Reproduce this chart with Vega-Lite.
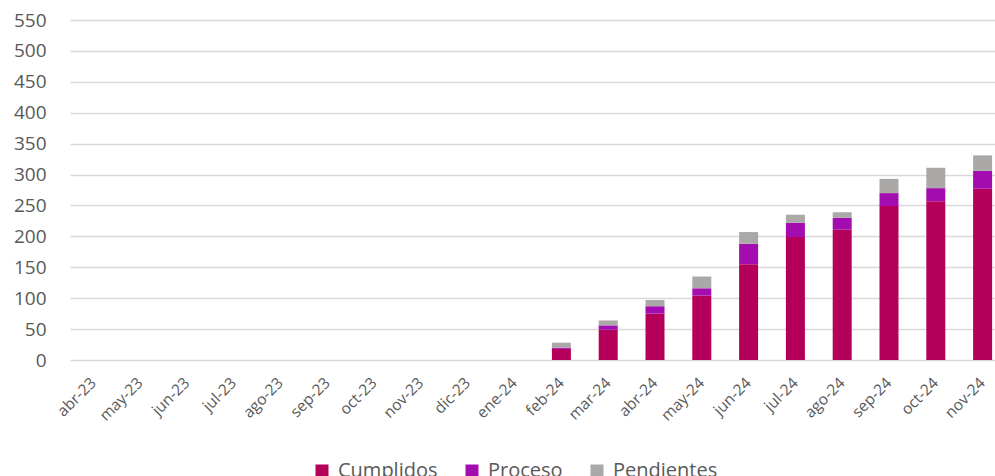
{
  "$schema": "https://vega.github.io/schema/vega-lite/v6.json",
  "autosize": "none",
  "padding": {"left": 70, "top": 20, "right": 0, "bottom": 116},
  "width": 936,
  "height": 340,
  "background": "white",
  "data": {
    "values": [
      {"mes": "abr-23", "Cumplidos": 0, "Proceso": 0, "Pendientes": 0},
      {"mes": "may-23", "Cumplidos": 0, "Proceso": 0, "Pendientes": 0},
      {"mes": "jun-23", "Cumplidos": 0, "Proceso": 0, "Pendientes": 0},
      {"mes": "jul-23", "Cumplidos": 0, "Proceso": 0, "Pendientes": 0},
      {"mes": "ago-23", "Cumplidos": 0, "Proceso": 0, "Pendientes": 0},
      {"mes": "sep-23", "Cumplidos": 0, "Proceso": 0, "Pendientes": 0},
      {"mes": "oct-23", "Cumplidos": 0, "Proceso": 0, "Pendientes": 0},
      {"mes": "nov-23", "Cumplidos": 0, "Proceso": 0, "Pendientes": 0},
      {"mes": "dic-23", "Cumplidos": 0, "Proceso": 0, "Pendientes": 0},
      {"mes": "ene-24", "Cumplidos": 0, "Proceso": 0, "Pendientes": 0},
      {"mes": "feb-24", "Cumplidos": 18, "Proceso": 2, "Pendientes": 8},
      {"mes": "mar-24", "Cumplidos": 49, "Proceso": 7, "Pendientes": 8},
      {"mes": "abr-24", "Cumplidos": 75, "Proceso": 12, "Pendientes": 10},
      {"mes": "may-24", "Cumplidos": 104, "Proceso": 12, "Pendientes": 19},
      {"mes": "jun-24", "Cumplidos": 155, "Proceso": 33, "Pendientes": 19},
      {"mes": "jul-24", "Cumplidos": 199, "Proceso": 23, "Pendientes": 13},
      {"mes": "ago-24", "Cumplidos": 211, "Proceso": 19, "Pendientes": 9},
      {"mes": "sep-24", "Cumplidos": 249, "Proceso": 21, "Pendientes": 23},
      {"mes": "oct-24", "Cumplidos": 257, "Proceso": 21, "Pendientes": 33},
      {"mes": "nov-24", "Cumplidos": 277, "Proceso": 29, "Pendientes": 25}
    ]
  },
  "transform": [
    {"fold": ["Cumplidos", "Proceso", "Pendientes"], "as": ["estado", "valor"]},
    {"calculate": "indexof(['Cumplidos','Proceso','Pendientes'], datum.estado)", "as": "orden"}
  ],
  "mark": {"type": "bar"},
  "encoding": {
    "x": {
      "field": "mes",
      "type": "ordinal",
      "sort": null,
      "scale": {"paddingInner": 0.594, "paddingOuter": 0.297},
      "axis": {
        "title": null,
        "domain": false,
        "ticks": false,
        "labelAngle": -45,
        "labelAlign": "right",
        "labelBaseline": "middle",
        "labelPadding": 20,
        "labelFont": "Open Sans",
        "labelFontSize": 15.5,
        "labelColor": "#595959"
      }
    },
    "y": {
      "field": "valor",
      "type": "quantitative",
      "stack": "zero",
      "scale": {"domain": [0, 550], "nice": false},
      "axis": {
        "title": null,
        "values": [0, 50, 100, 150, 200, 250, 300, 350, 400, 450, 500, 550],
        "domain": false,
        "ticks": false,
        "labelPadding": 24,
        "labelFont": "Open Sans",
        "labelFontSize": 19,
        "labelColor": "#595959",
        "gridColor": "#d9d9d9",
        "gridWidth": 1.5
      }
    },
    "color": {
      "field": "estado",
      "type": "nominal",
      "scale": {
        "domain": ["Cumplidos", "Proceso", "Pendientes"],
        "range": ["#b4005a", "#a30db0", "#aba8a8"]
      },
      "legend": {
        "title": null,
        "orient": "none",
        "direction": "horizontal",
        "legendX": 242,
        "legendY": 441,
        "padding": 0,
        "symbolType": "square",
        "symbolSize": 169,
        "symbolStrokeWidth": 0,
        "symbolOpacity": 1,
        "labelFont": "Open Sans",
        "labelFontSize": 20,
        "labelColor": "#595959",
        "labelOffset": 6,
        "columnPadding": 24
      }
    },
    "order": {"field": "orden", "type": "quantitative"}
  },
  "config": {"view": {"stroke": null}}
}
